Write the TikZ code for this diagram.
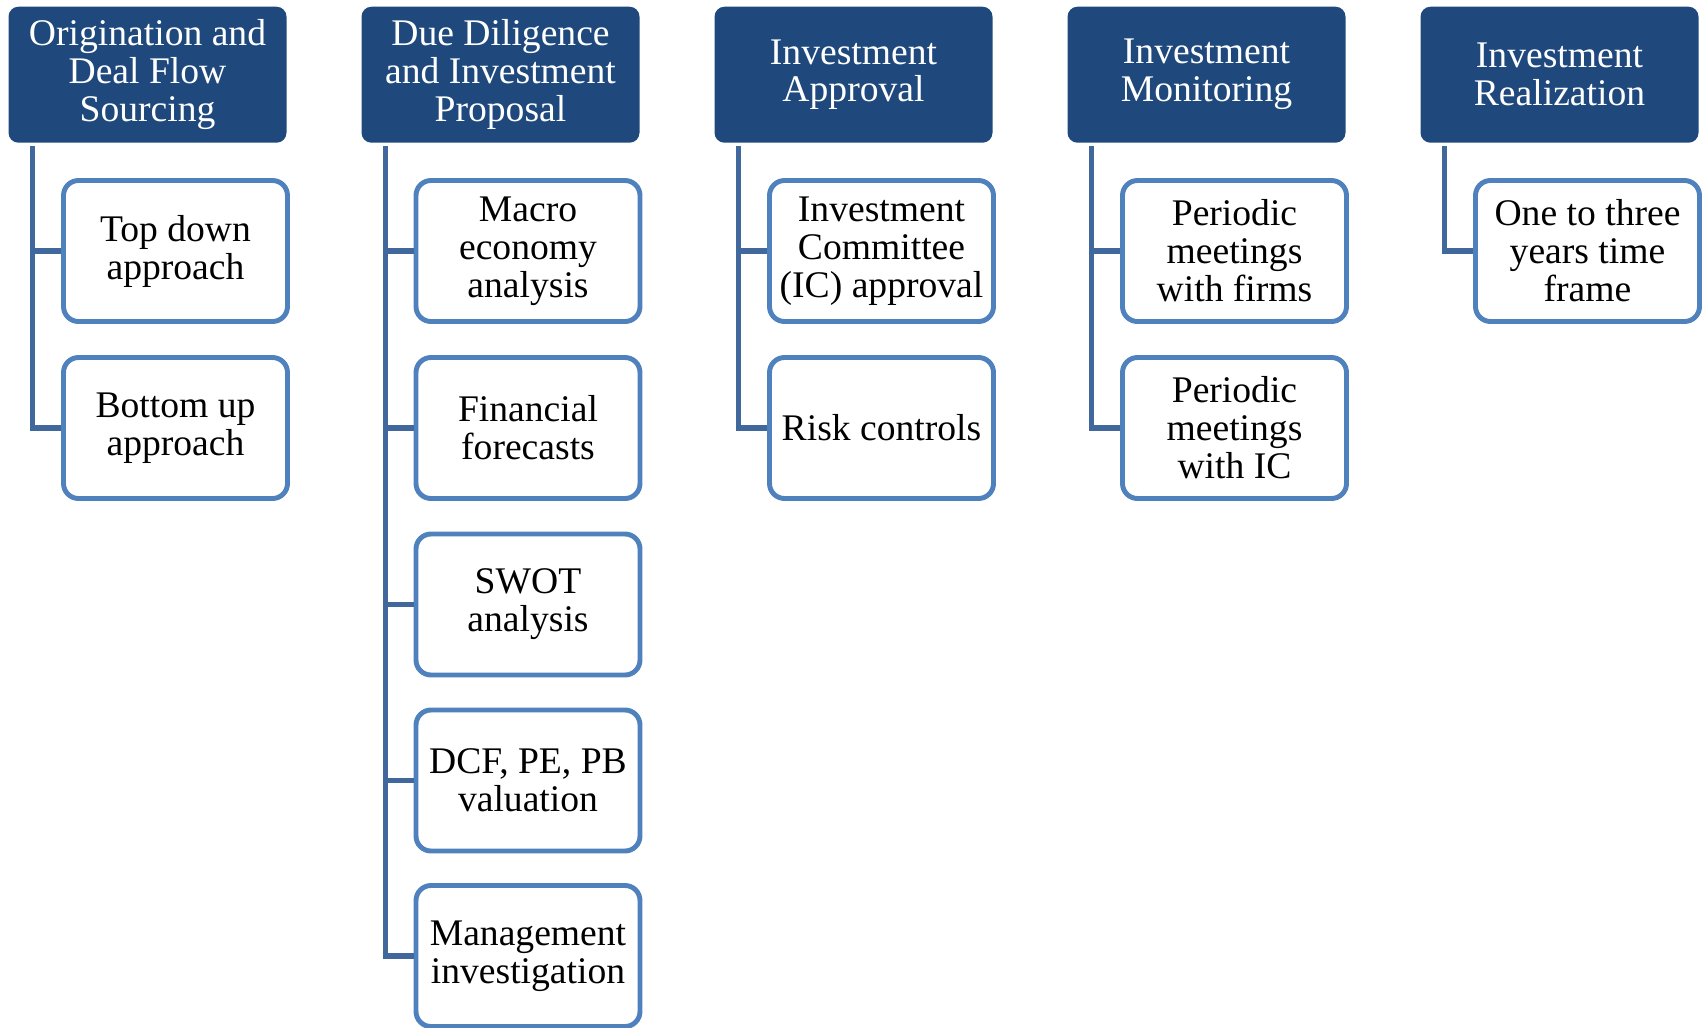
\documentclass[tikz,border=0pt]{standalone}
\usepackage{fontspec}
\setmainfont{Liberation Serif}
\definecolor{headblue}{HTML}{1F497D}
\definecolor{boxblue}{HTML}{4F81BD}
\definecolor{lineblue}{HTML}{41689C}

\begin{document}
\begin{tikzpicture}[
    stage/.style={fill=headblue, rounded corners=0.1cm, minimum width=2.78cm,
      minimum height=1.36cm, inner sep=0pt, text=white, align=center,
      font=\fontsize{10.7}{10.8}\selectfont},
    task/.style={draw=boxblue, line width=1.4pt, fill=white, rounded corners=0.15cm,
      minimum width=2.24cm, minimum height=1.41cm, inner sep=0pt, align=center,
      font=\fontsize{10.7}{10.8}\selectfont},
    link/.style={draw=lineblue, line width=1.5pt}]
    \useasboundingbox (0,0) rectangle (17.06,-10.27);

    % stage headers
    \node[stage] (h1) at (1.475,-0.747) {Origination and\\Deal Flow\\Sourcing};
    \node[stage] (h2) at (5.005,-0.747) {Due Diligence\\and Investment\\Proposal};
    \node[stage] (h3) at (8.535,-0.747) {Investment\\Approval};
    \node[stage] (h4) at (12.065,-0.747) {Investment\\Monitoring};
    \node[stage] (h5) at (15.595,-0.747) {Investment\\Realization};

    % tasks under each stage
    \node[task] (c1a) at (1.755,-2.51) {Top down\\approach};
    \node[task] (c1b) at (1.755,-4.28) {Bottom up\\approach};

    \node[task] (c2a) at (5.28,-2.51) {Macro\\economy\\analysis};
    \node[task] (c2b) at (5.28,-4.28) {Financial\\forecasts};
    \node[task] (c2c) at (5.28,-6.045) {SWOT\\analysis};
    \node[task] (c2d) at (5.28,-7.805) {DCF, PE, PB\\valuation};
    \node[task] (c2e) at (5.28,-9.56) {Management\\investigation};

    \node[task] (c3a) at (8.815,-2.51) {Investment\\Committee\\(IC) approval};
    \node[task] (c3b) at (8.815,-4.28) {Risk controls};

    \node[task] (c4a) at (12.345,-2.51) {Periodic\\meetings\\with firms};
    \node[task] (c4b) at (12.345,-4.28) {Periodic\\meetings\\with IC};

    \node[task] (c5a) at (15.875,-2.51) {One to three\\years time\\frame};

    % connectors
    \foreach \c in {c1a,c1b}
    \draw[link] ([xshift=0.25cm,yshift=-0.03cm]h1.south west) |- (\c.west);
    \foreach \c in {c2a,c2b,c2c,c2d,c2e}
    \draw[link] ([xshift=0.25cm,yshift=-0.03cm]h2.south west) |- (\c.west);
    \foreach \c in {c3a,c3b}
    \draw[link] ([xshift=0.25cm,yshift=-0.03cm]h3.south west) |- (\c.west);
    \foreach \c in {c4a,c4b}
    \draw[link] ([xshift=0.25cm,yshift=-0.03cm]h4.south west) |- (\c.west);
    \draw[link] ([xshift=0.25cm,yshift=-0.03cm]h5.south west) |- (c5a.west);
\end{tikzpicture}
\end{document}
